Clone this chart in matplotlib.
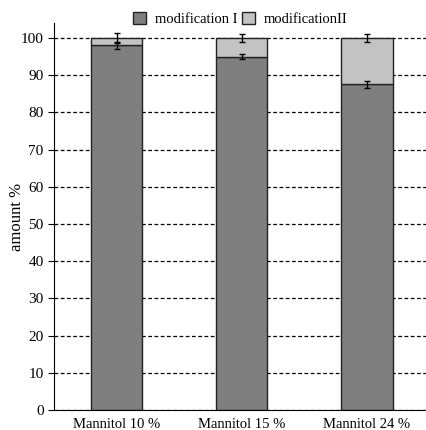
import matplotlib.pyplot as plt

plt.rcParams['font.family'] = ['Liberation Serif', 'DejaVu Serif']

categories = ["Mannitol 10 %", "Mannitol 15 %", "Mannitol 24 %"]
mod1 = [98.0, 94.9, 87.5]
mod1_err = [0.9, 0.7, 1.0]
total_err = [1.4, 1.1, 1.0]
mod2 = [100 - v for v in mod1]

fig = plt.figure(figsize=(4.27, 4.3), dpi=100)
ax = fig.add_axes([0.1265, 0.0465, 0.8735, 0.9])

x = range(len(categories))
ax.yaxis.grid(True, linestyle=(0, (3, 2)), color='black', linewidth=0.9)
ax.set_axisbelow(True)

ax.bar(x, mod1, width=0.41, color='#7f7f7f', edgecolor='#222222', linewidth=1.0,
       label='modification I', zorder=2)
ax.bar(x, mod2, width=0.41, bottom=mod1, color='#c3c3c3', edgecolor='#222222',
       linewidth=1.0, label='modificationII', zorder=2)
ax.errorbar(x, mod1, yerr=mod1_err, fmt='none', ecolor='black', elinewidth=1.0,
            capsize=2.5, capthick=1.0, zorder=3)
ax.errorbar(x, [100] * 3, yerr=total_err, fmt='none', ecolor='black', elinewidth=1.0,
            capsize=2.5, capthick=1.0, zorder=3)

ax.set_xlim(-0.5, 2.48)
ax.set_ylim(0, 104)
ax.set_yticks(range(0, 101, 10))
ax.set_xticks(list(x))
ax.set_xticklabels(categories, fontsize=10.5)
ax.tick_params(axis='x', length=0, pad=6)
ax.tick_params(axis='y', direction='out', length=4, labelsize=11)
ax.spines['top'].set_visible(False)
ax.spines['right'].set_visible(False)
ax.set_ylabel('amount %', fontsize=12)
ax.yaxis.set_label_coords(-0.078, 0.5)

ax.legend(loc='upper center', bbox_to_anchor=(0.5, 1.062), ncol=2, frameon=False,
          fontsize=10.5, handlelength=0.9, handleheight=0.9, handletextpad=0.6,
          columnspacing=0.3)

fig.savefig('out.png', dpi=100)
